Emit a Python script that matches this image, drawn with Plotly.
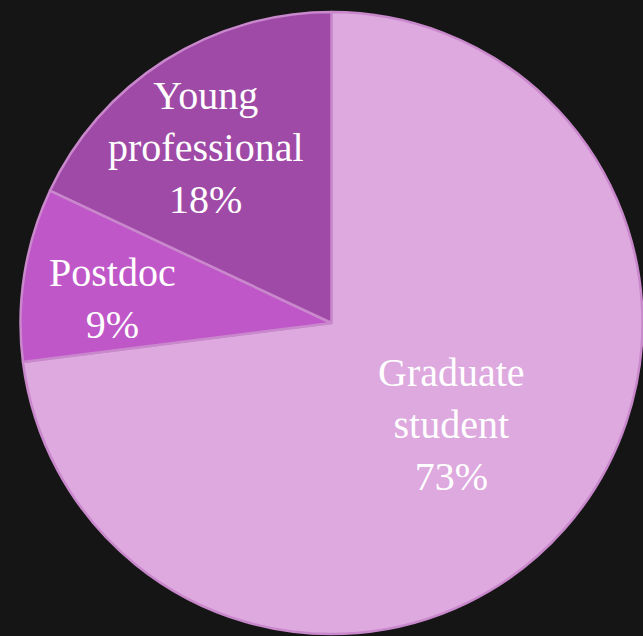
import plotly.graph_objects as go

# Career stage breakdown of respondents
categories = ["Graduate student", "Postdoc", "Young professional"]
shares = [73, 9, 18]
display_names = ["Graduate<br>student", "Postdoc", "Young<br>professional"]

W, H = 643, 636

slice_colors = ["#DDA9DE", "#BF57C8", "#A04AA7"]

# label centres in pixels (x, y from top)
label_pos = [(451, 424), (112, 298), (206, 147)]

fig = go.Figure(
    go.Pie(
        labels=categories,
        values=shares,
        sort=False,
        direction="clockwise",
        rotation=0,
        textinfo="none",
        hoverinfo="label+percent",
        marker=dict(colors=slice_colors, line=dict(color="#C987CC", width=2.5)),
        domain=dict(x=[20 / W, 1.0], y=[1 - 634 / H, 1 - 12 / H]),
        showlegend=False,
    )
)

total = sum(shares)
annotations = []
for name, v, (px, py) in zip(display_names, shares, label_pos):
    annotations.append(
        dict(
            text=f"{name}<br>{round(100 * v / total)}%",
            x=px / W,
            y=1 - py / H,
            xref="paper",
            yref="paper",
            xanchor="center",
            yanchor="middle",
            showarrow=False,
            align="center",
            font=dict(family="Liberation Serif, Times New Roman, serif", size=40, color="#FFFFFF"),
        )
    )

fig.update_layout(
    width=W,
    height=H,
    margin=dict(l=0, r=0, t=0, b=0),
    paper_bgcolor="#151515",
    plot_bgcolor="#151515",
    annotations=annotations,
)

fig.write_html("out.html")
